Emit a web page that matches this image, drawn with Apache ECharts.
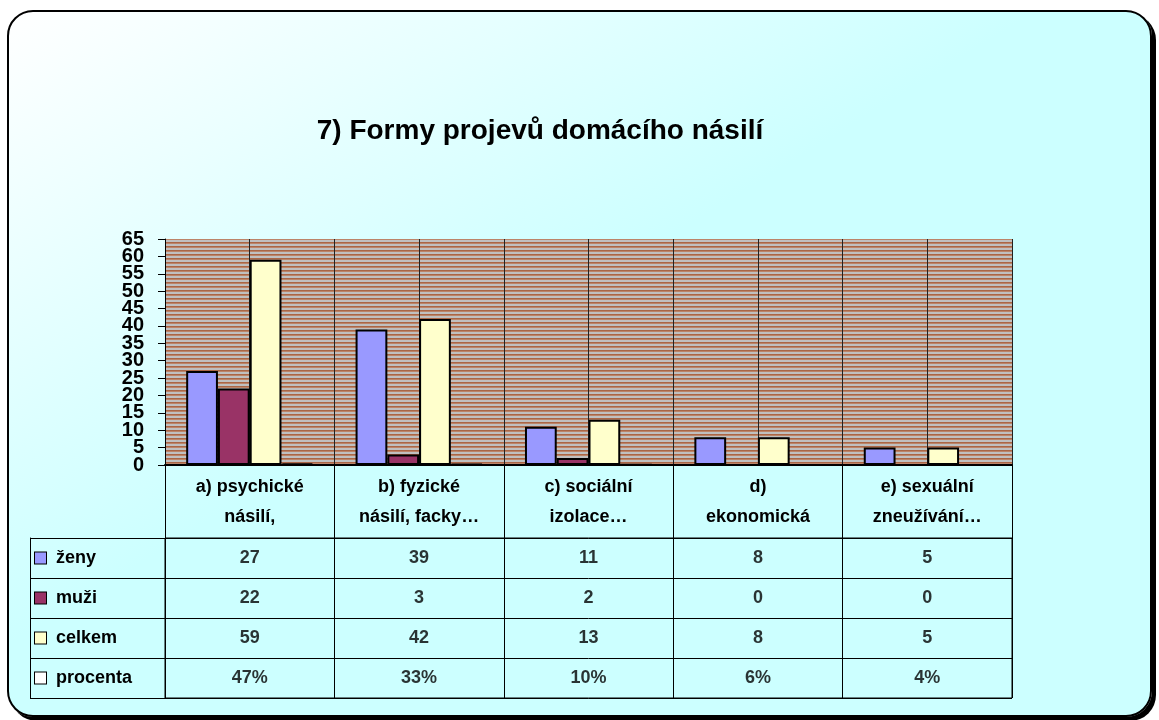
<!DOCTYPE html>
<html>
<head>
<meta charset="utf-8">
<title>7) Formy projevů domácího násilí</title>
<script src="https://cdn.jsdelivr.net/npm/echarts@6/dist/echarts.min.js"></script>
<style>
  html, body { margin: 0; padding: 0; background: #fff; }
  #frame {
    position: absolute; left: 7px; top: 10px; width: 1141px; height: 703px;
    border: 2px solid #000; border-radius: 26px; box-shadow: 4px 4px 0 #000;
    background: linear-gradient(to bottom right, #ffffff 0%, #ccffff 45%, #ccffff 100%);
  }
  #chart { position: absolute; left: 0; top: 0; width: 1159px; height: 720px; }
</style>
</head>
<body>
<div id="frame"></div>
<div id="chart"></div>
<script>
// ---------------- data ----------------
var categories = ['a) psychické\nnásilí,', 'b) fyzické\nnásilí, facky…', 'c) sociální\nizolace…', 'd)\nekonomická', 'e) sexuální\nzneužívání…'];
var rowNames = ['ženy', 'muži', 'celkem', 'procenta'];
var zeny = [27, 39, 11, 8, 5];
var muzi = [22, 3, 2, 0, 0];
var celkem = [59, 42, 13, 8, 5];
var procenta = [47, 33, 10, 6, 4];   // v procentech
var yTickLabels = [0, 5, 10, 15, 20, 25, 30, 35, 40, 45, 50, 55, 60, 65];
var colors = ['#9999ff', '#993366', '#ffffcc', '#ffffff'];

// pruhované pozadí plochy grafu
var stripe = document.createElement('canvas');
stripe.width = 4; stripe.height = 4;
var ctx = stripe.getContext('2d');
ctx.fillStyle = '#c0c0c0'; ctx.fillRect(0, 0, 4, 2);
ctx.fillStyle = '#aa6646'; ctx.fillRect(0, 2, 4, 1);
ctx.fillStyle = '#bc8468'; ctx.fillRect(0, 3, 4, 1);

var font = 'Liberation Sans, Arial, sans-serif';
var halfCats = [];
categories.forEach(function (c, i) { halfCats.push('L' + i, 'R' + i); });

var tableRows = [zeny, muzi, celkem, procenta.map(function (p) { return p + '%'; })];
var cellData = [];
for (var r = 0; r < tableRows.length; r++) {
  for (var c = 0; c < categories.length; c++) {
    cellData.push([c, r, tableRows[r][c]]);
  }
}

var rich = { t: { fontFamily: font, fontWeight: 'bold', fontSize: 18, color: '#000', padding: [0, 0, 0, 10] } };
rowNames.forEach(function (n, i) {
  rich['m' + i] = { width: 11, height: 11, backgroundColor: colors[i], borderColor: '#000', borderWidth: 1 };
});

function barSeries(name, data, i) {
  return {
    name: name, type: 'bar', xAxisIndex: 0, yAxisIndex: 0,
    data: data, barGap: '0%', barCategoryGap: '25%',
    itemStyle: { color: colors[i], borderColor: '#000', borderWidth: 2 }
  };
}

var option = {
  animation: false,
  title: {
    text: '7) Formy projevů domácího násilí',
    left: 535, top: 112, textAlign: 'center',
    textStyle: { fontFamily: font, fontWeight: 'bold', fontSize: 28, color: '#000' }
  },
  grid: [
    { left: 165, right: 147, top: 239, height: 226, show: true, borderWidth: 0,
      backgroundColor: { image: stripe, repeat: 'repeat' } },
    { left: 165, right: 147, top: 538, height: 160, show: true, borderWidth: 1, borderColor: '#000',
      backgroundColor: 'transparent' }
  ],
  xAxis: [
    { type: 'category', gridIndex: 0, data: categories, boundaryGap: true,
      axisLine: { lineStyle: { color: '#000', width: 2 } },
      axisTick: { show: true, interval: 0, length: 233, lineStyle: { color: '#000', width: 1 } },
      axisLabel: { interval: 0, margin: 7, fontFamily: font, fontWeight: 'bold', fontSize: 18, lineHeight: 30, color: '#000' },
      splitLine: { show: true, interval: 0, lineStyle: { color: '#222', width: 1 } } },
    { type: 'category', gridIndex: 0, data: halfCats, position: 'top',
      axisLine: { show: false }, axisTick: { show: false }, axisLabel: { show: false },
      splitLine: { show: true, interval: 0, lineStyle: { color: '#222', width: 1 } } },
    { type: 'category', gridIndex: 1, data: categories,
      axisLine: { show: false }, axisTick: { show: false }, axisLabel: { show: false }, splitLine: { show: false } }
  ],
  yAxis: [
    { type: 'value', gridIndex: 0, min: yTickLabels[0], max: yTickLabels[yTickLabels.length - 1],
      interval: yTickLabels[1] - yTickLabels[0],
      axisLine: { show: true, lineStyle: { color: '#000', width: 1 } },
      axisTick: { show: true, length: 7, lineStyle: { color: '#000' } },
      axisLabel: { show: false },
      splitLine: { show: false } },
    { type: 'category', gridIndex: 1, data: rowNames, inverse: true,
      axisLine: { show: true, lineStyle: { color: '#000', width: 1 } },
      axisTick: { show: true, interval: 0, length: 135, lineStyle: { color: '#000', width: 1 } },
      axisLabel: { interval: 0, align: 'left', margin: 130, rich: rich,
        formatter: function (v, i) { return '{m' + i + '|}{t|' + v + '}'; } },
      splitLine: { show: true, interval: 0, lineStyle: { color: '#000', width: 1 } } },
    { type: 'category', gridIndex: 1, data: rowNames, inverse: true, position: 'left', offset: 135,
      axisLine: { show: true, lineStyle: { color: '#000', width: 1 } },
      axisTick: { show: false }, axisLabel: { show: false }, splitLine: { show: false } }
  ],
  series: [
    barSeries('ženy', zeny, 0),
    barSeries('muži', muzi, 1),
    barSeries('celkem', celkem, 2),
    barSeries('procenta', procenta.map(function (p) { return p / 100; }), 3),
    { name: 'tabulka', type: 'scatter', xAxisIndex: 2, yAxisIndex: 1,
      data: cellData, symbolSize: 1, itemStyle: { color: 'rgba(0,0,0,0)' },
      label: { show: true, position: 'inside', fontFamily: font, fontWeight: 'bold', fontSize: 18, color: '#000',
        formatter: function (p) { return p.data[2]; } } },
    // popisky osy Y (překrývají se jako v originále)
    { name: 'osaY', type: 'custom', xAxisIndex: 0, yAxisIndex: 0, clip: false, silent: true, z: 10,
      data: yTickLabels.map(function (v) { return [0, v]; }),
      renderItem: function (params, api) {
        var v = api.value(1);
        var pt = api.coord([0, v]);
        return {
          type: 'text', x: params.coordSys.x - 21, y: pt[1],
          style: { text: String(v), align: 'right', verticalAlign: 'middle',
            font: 'bold 20px ' + font, fill: '#000' }
        };
      } }
  ]
};

echarts.init(document.getElementById('chart')).setOption(option);
</script>
</body>
</html>
